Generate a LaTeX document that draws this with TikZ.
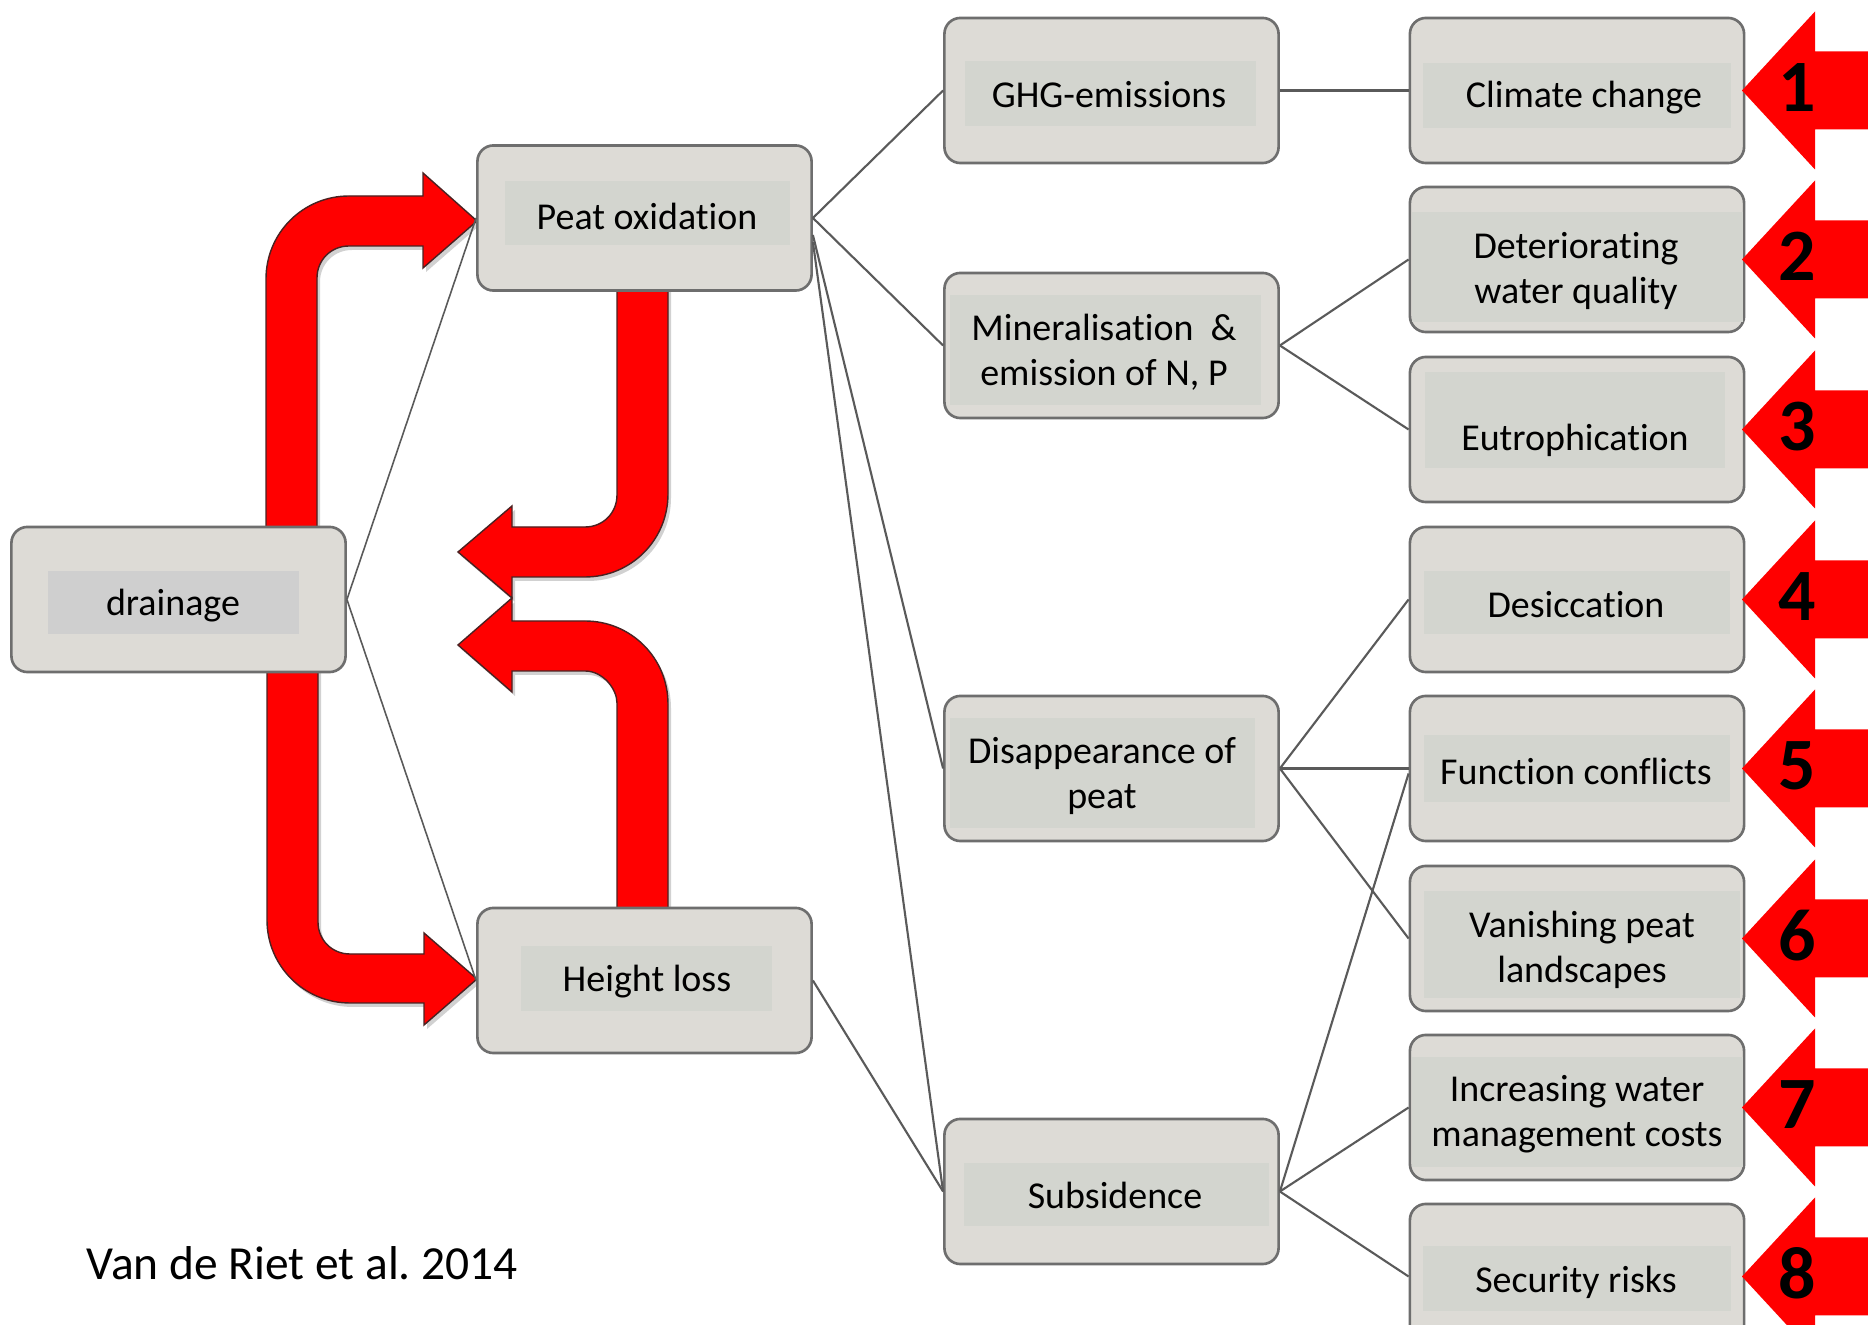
\documentclass[tikz,border=0pt]{standalone}
\usepackage{fontspec}
\setmainfont{Carlito}[Ligatures=NoCommon]
\definecolor{boxfill}{HTML}{DDDBD6}
\definecolor{innerfill}{HTML}{D3D5CF}
\definecolor{innergray}{HTML}{CFCFCF}
\definecolor{boxline}{HTML}{6E6E6E}
\definecolor{linegray}{HTML}{5A5A5A}
\definecolor{arrowred}{HTML}{FF0000}
\definecolor{arrowedge}{HTML}{4A2222}
\begin{document}
\frenchspacing
\begin{tikzpicture}[x=0.01cm, y=-0.01cm,
  box/.style={draw=boxline, line width=0.75pt, fill=boxfill, rounded corners=0.16cm,
    minimum width=3.34cm, minimum height=1.45cm, inner sep=0pt},
  txt/.style={font=\fontsize{10.8}{12.8}\selectfont, align=center, inner sep=0pt, text=black},
  link/.style={draw=linegray, line width=0.6pt},
  thinlink/.style={draw=linegray, line width=0.45pt},
  bigarrow/.style={fill=arrowred, draw=arrowedge, line width=0.4pt, line join=miter},
  arrowshadow/.style={fill=black, opacity=0.18},
  sidearrow/.style={fill=arrowred},
  num/.style={font=\fontsize{21}{21}\selectfont\bfseries, inner sep=0pt}]
\useasboundingbox (0,0) rectangle (1868,1325);
\fill[white] (0,0) rectangle (1868,1325);

% ---- big curved red arrows (drawn first, boxes cover their tails)
\def\arrowA{(266,560) -- (266,279) .. controls (266,233) and (303,196) .. (349,196) -- (423,196) -- (423,173) -- (477,221) -- (423,268) -- (423,246) -- (349,246) .. controls (331,246) and (317,260) .. (317,278) -- (317,560) -- cycle}
\def\arrowB{(267,650) -- (267,920) .. controls (267,966) and (304,1003) .. (350,1003) -- (424,1003) -- (424,1025) -- (477,979) -- (424,933) -- (424,954) -- (350,954) .. controls (332,954) and (318,940) .. (318,922) -- (318,650) -- cycle}
\def\arrowC{(617,280) -- (617,495) .. controls (617,513) and (603,527) .. (585,527) -- (512,527) -- (512,506) -- (458,552) -- (512,598) -- (512,577) -- (585,577) .. controls (631,577) and (668,540) .. (668,494) -- (668,280) -- cycle}
\def\arrowD{(617,920) -- (617,703) .. controls (617,689) and (603,671) .. (585,671) -- (512,671) -- (512,692) -- (458,645) -- (512,598) -- (512,621) -- (585,621) .. controls (631,621) and (668,658) .. (668,704) -- (668,920) -- cycle}
\begin{scope}[shift={(3,4)}]
  \fill[arrowshadow] \arrowA;
  \fill[arrowshadow] \arrowB;
  \fill[arrowshadow] \arrowC;
  \fill[arrowshadow] \arrowD;
\end{scope}
\path[bigarrow] \arrowA;
\path[bigarrow] \arrowB;
\path[bigarrow] \arrowC;
\path[bigarrow] \arrowD;

% ---- boxes
\node[box] (drain) at (178.5,599.5) {};
\node[box] (peat) at (644.5,218) {};
\node[box] (height) at (644.5,980.5) {};
\node[box] (ghg) at (1111.5,90.5) {};
\node[box] (mineral) at (1111.5,345.5) {};
\node[box] (disapp) at (1111.5,768.5) {};
\node[box] (subs) at (1111.5,1191.5) {};
\node[box] (climate) at (1577,90.5) {};
\node[box] (deter) at (1577,259.5) {};
\node[box] (eutro) at (1577,429.5) {};
\node[box] (desicc) at (1577,599.5) {};
\node[box] (func) at (1577,768.5) {};
\node[box] (vanish) at (1577,938.5) {};
\node[box] (incr) at (1577,1107.5) {};
\node[box] (secur) at (1577,1276.5) {};

% ---- connectors
\draw[thinlink] (drain.east) -- (peat.west);
\draw[thinlink] (drain.east) -- (height.west);
\draw[link] (peat.east) -- (ghg.west);
\draw[link] (peat.east) -- (mineral.west);
\draw[link] ([yshift=-0.17cm]peat.east) -- (disapp.west);
\draw[link] ([yshift=-0.24cm]peat.east) -- (subs.west);
\draw[link] (height.east) -- (subs.west);
\draw[link] (ghg.east) -- (climate.west);
\draw[link] (mineral.east) -- (deter.west);
\draw[link] (mineral.east) -- (eutro.west);
\draw[link] (disapp.east) -- (desicc.west);
\draw[link] (disapp.east) -- (func.west);
\draw[link] (disapp.east) -- (vanish.west);
\draw[link] (subs.east) -- ([yshift=-0.05cm]func.west);
\draw[link] (subs.east) -- (incr.west);
\draw[link] (subs.east) -- (secur.west);

% ---- inner text panels
\fill[innergray] (48,571) rectangle (299,634);
\fill[innerfill] (505,181) rectangle (790,245);
\fill[innerfill] (521,946) rectangle (772,1011);
\fill[innerfill] (965,61) rectangle (1256,126);
\fill[innerfill] (950,295) rectangle (1261,405);
\fill[innerfill] (950,718) rectangle (1255,828);
\fill[innerfill] (964,1163) rectangle (1269,1226);
\fill[innerfill] (1423,63) rectangle (1731,128);
\fill[innerfill] (1412,212) rectangle (1743,322);
\fill[innerfill] (1425,372) rectangle (1725,468);
\fill[innerfill] (1424,571) rectangle (1730,634);
\fill[innerfill] (1424,735) rectangle (1730,802);
\fill[innerfill] (1424,891) rectangle (1740,998);
\fill[innerfill] (1412,1057) rectangle (1743,1167);
\fill[innerfill] (1423,1246) rectangle (1731,1311);

% ---- texts
\node[txt] (t-drain) at (173,606) {drainage};
\node[txt] (t-peat) at (647,216) {Peat oxidation};
\node[txt] (t-height) at (647,982) {Height loss};
\node[txt] (t-ghg) at (1109,95) {GHG-emissions};
\node[txt] (t-mineral) at (1104,352) {Mineralisation~~\&\\emission of N, P};
\node[txt] (t-disapp) at (1102,776) {Disappearance of\\peat};
\node[txt] (t-subs) at (1115,1195) {Subsidence};
\node[txt] (t-climate) at (1584,98) {Climate change};
\node[txt] (t-deter) at (1576,271) {Deteriorating\\water quality};
\node[txt] (t-eutro) at (1575,440) {Eutrophication};
\node[txt] (t-desicc) at (1576,605) {Desiccation};
\node[txt] (t-func) at (1576,771) {Function conflicts};
\node[txt] (t-vanish) at (1582,950) {Vanishing peat\\landscapes};
\node[txt] (t-incr) at (1577,1114) {Increasing water\\management costs};
\node[txt] (t-secur) at (1576,1282) {Security risks};

\node[anchor=west, inner sep=0pt, font=\fontsize{13.5}{16}\selectfont] (source) at (86,1263) {Van de Riet et al. 2014};

% ---- right-hand numbered arrows
\foreach \c/\n/\lab in {90.5/1/n1, 259.5/2/n2, 429.5/3/n3, 599.5/4/n4, 768.5/5/n5, 938.5/6/n6, 1107.5/7/n7, 1276.5/8/n8}{
  \fill[sidearrow] (1868,\c-39) -- (1815,\c-39) -- (1815,\c-79) -- (1742,\c) -- (1815,\c+79) -- (1815,\c+39) -- (1868,\c+39) -- cycle;
  \node[num] (\lab) at (1797,\c-3) {\n};
}
\end{tikzpicture}
\end{document}
